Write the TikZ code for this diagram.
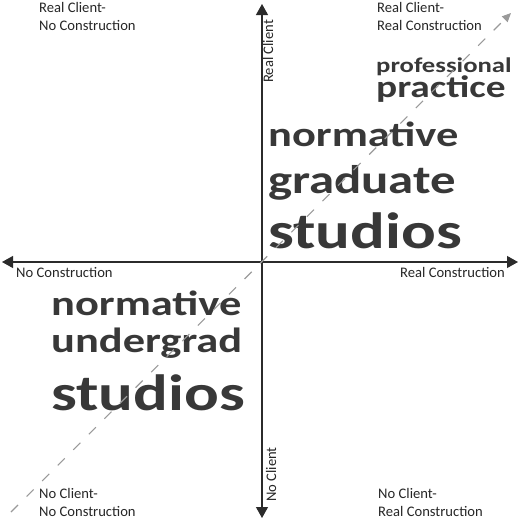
\documentclass[tikz,border=0pt]{standalone}
\usepackage{fontspec}
\setmainfont{Carlito}
\usepackage{tikz}
\usetikzlibrary{arrows.meta}
\usepackage{xcolor}
\definecolor{axisgray}{HTML}{2B2B2B}
\definecolor{wordgray}{HTML}{383838}
\definecolor{dashgray}{HTML}{9A9A9A}

\begin{document}
\begin{tikzpicture}[x=1pt, y=-1pt,
    axis/.style={line width=1.2pt, axisgray, -{Triangle[length=11pt, width=12pt]}},
    small/.style={inner sep=0pt, text=black!85, font=\fontsize{14.6}{17.5}\selectfont},
    big/.style={anchor=base west, inner sep=0pt, text=wordgray}]

    \useasboundingbox (0,0) rectangle (520,522);

    % Coordinates for the axes
    \coordinate (O) at (262, 262);   % origin
    \coordinate (N) at (262, 4);     % real client
    \coordinate (S) at (262, 518);   % no client
    \coordinate (W) at (2, 262);     % no construction
    \coordinate (E) at (518, 262);   % real construction
    \coordinate (D1) at (11, 512);   % start of the trend
    \coordinate (D2) at (511, 13);   % end of the trend

    % Draw the axes
    \draw[axis] (O) -- (N);
    \draw[axis] (O) -- (S);
    \draw[axis] (O) -- (W);
    \draw[axis] (O) -- (E);

    % Axis labels
    \node[small, rotate=90, anchor=base west] (realclient) at (273, 83) {Real Client};
    \node[small, rotate=90, anchor=base west] (noclient) at (276, 502) {No Client};
    \node[small, anchor=base west] (nocons) at (16, 277) {No Construction};
    \node[small, anchor=base east] (realcons) at (505, 277) {Real Construction};

    % Quadrant labels (base is the last line)
    \node[small, anchor=base west, align=left] (qNW) at (39, 30.5) {Real Client-\\No Construction};
    \node[small, anchor=base west, align=left] (qNE) at (377, 30.5) {Real Client-\\Real Construction};
    \node[small, anchor=base west, align=left] (qSW) at (39, 516) {No Client-\\No Construction};
    \node[small, anchor=base west, align=left] (qSE) at (378, 516) {No Client-\\Real Construction};

    % Practice
    \node[big, font=\bfseries\fontsize{21}{21}\selectfont] (prof) at (376, 72) {\scalebox{1.27}[1]{professional}};
    \node[big, font=\bfseries\fontsize{31}{31}\selectfont] (prac) at (376, 97.5) {\scalebox{1.27}[1]{practice}};

    % Graduate studios
    \node[big, font=\bfseries\fontsize{35}{35}\selectfont] (gnorm) at (268, 146) {\scalebox{1.27}[1]{normative}};
    \node[big, font=\bfseries\fontsize{40}{40}\selectfont] (ggrad) at (268, 193) {\scalebox{1.27}[1]{graduate}};
    \node[big, font=\bfseries\fontsize{51}{51}\selectfont] (gstud) at (268, 248) {\scalebox{1.27}[1]{studios}};

    % Undergrad studios
    \node[big, font=\bfseries\fontsize{35}{35}\selectfont] (unorm) at (51, 315) {\scalebox{1.27}[1]{normative}};
    \node[big, font=\bfseries\fontsize{35}{35}\selectfont] (uundr) at (51, 352) {\scalebox{1.27}[1]{undergrad}};
    \node[big, font=\bfseries\fontsize{51}{51}\selectfont] (ustud) at (51, 410) {\scalebox{1.27}[1]{studios}};

    % Draw the trend line
    \draw[dashgray, line width=1.1pt, dash pattern=on 10pt off 12pt,
          -{Triangle[length=9pt, width=8pt]}] (D1) -- (D2);

\end{tikzpicture}
\end{document}
